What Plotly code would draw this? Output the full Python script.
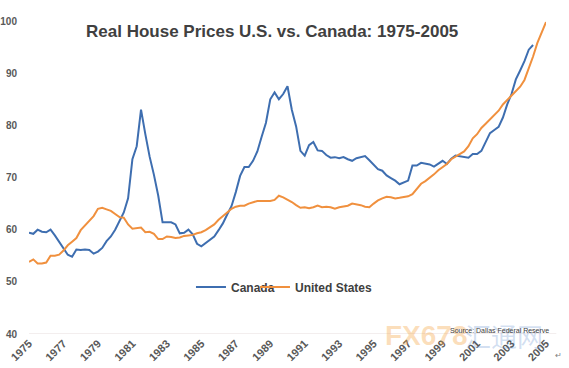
import plotly.graph_objects as go

# Quarterly real house price index, 1975Q1 ..
canada = [
    59.4, 59.2, 60.0, 59.6, 59.5, 60.0, 58.9, 57.6, 56.3, 55.2,
    54.8, 56.2, 56.1, 56.2, 56.1, 55.4, 55.8, 56.5, 57.8, 58.7,
    60.0, 61.6, 63.3, 66.0, 73.5, 76.0, 83.0, 78.3, 74.0, 70.5,
    66.5, 61.4, 61.4, 61.4, 61.0, 59.3, 59.4, 60.0, 59.1, 57.3,
    56.8, 57.4, 58.0, 58.7, 59.9, 61.2, 62.9, 64.5, 67.2, 70.3,
    72.0, 72.0, 73.2, 75.0, 77.8, 80.5, 85.0, 86.3, 85.0, 86.0,
    87.5, 83.0, 79.8, 75.1, 74.2, 76.2, 76.8, 75.2, 75.1, 74.3,
    73.8, 73.9, 73.7, 73.9, 73.5, 73.2, 73.7, 73.9, 74.1, 73.3,
    72.4, 71.6, 71.3, 70.4, 69.9, 69.4, 68.7, 69.1, 69.4, 72.3,
    72.3, 72.8, 72.7, 72.5, 72.1, 72.6, 73.2, 72.6, 73.6, 74.2,
    74.1, 73.9, 73.8, 74.5, 74.5, 75.1, 76.8, 78.5, 79.1, 79.7,
    81.5, 84.0, 86.0, 88.8, 90.5, 92.3, 94.5, 95.4,
]
united_states = [
    53.8, 54.3, 53.5, 53.5, 53.7, 55.0, 55.0, 55.2, 56.0, 57.0,
    57.7, 58.4, 59.9, 60.8, 61.6, 62.6, 64.0, 64.2, 63.9, 63.6,
    63.0, 62.4, 62.3, 61.0, 60.2, 60.3, 60.4, 59.5, 59.6, 59.2,
    58.2, 58.2, 58.7, 58.6, 58.4, 58.5, 58.8, 58.9, 59.0, 59.3,
    59.5, 59.9, 60.5, 61.0, 61.9, 62.7, 63.3, 64.0, 64.4, 64.6,
    64.6, 65.0, 65.3, 65.5, 65.5, 65.5, 65.5, 65.7, 66.5, 66.2,
    65.8, 65.3, 64.7, 64.2, 64.3, 64.1, 64.3, 64.6, 64.3, 64.4,
    64.3, 64.0, 64.3, 64.4, 64.6, 65.0, 64.9, 64.7, 64.4, 64.3,
    65.0, 65.6, 66.0, 66.3, 66.2, 66.0, 66.1, 66.2, 66.4, 66.8,
    67.8, 68.8, 69.3, 69.9, 70.6, 71.4, 72.0, 72.6, 73.5, 74.0,
    74.5, 75.0, 76.0, 77.5, 78.3, 79.5, 80.3, 81.2, 82.1, 82.8,
    84.0, 84.8, 85.6, 86.4, 87.4, 88.7, 90.8, 93.2, 95.8, 97.8,
    99.8,
]
tick_years = [1975, 1977, 1979, 1981, 1983, 1985, 1987, 1989, 1991,
              1993, 1995, 1997, 1999, 2001, 2003, 2005]
y_ticks = [40, 50, 60, 70, 80, 90, 100]

START_YEAR = 1975
x_ca = [START_YEAR + i / 4 for i in range(len(canada))]
x_us = [START_YEAR + i / 4 for i in range(len(united_states))]

FONT = "Liberation Sans"
BLUE = "#3E6EB0"
ORANGE = "#F0903E"
LEG_FONT = dict(family=FONT, size=12, color="#404040", weight="bold")

fig = go.Figure()
fig.add_trace(go.Scatter(x=x_ca, y=canada, mode="lines", name="Canada",
                         line=dict(color=BLUE, width=2), legend="legend"))
fig.add_trace(go.Scatter(x=x_us, y=united_states, mode="lines", name="United States",
                         line=dict(color=ORANGE, width=2), legend="legend2"))

fig.update_layout(
    width=569, height=368,
    margin=dict(l=29, r=23, t=21, b=34, autoexpand=False),
    paper_bgcolor="white", plot_bgcolor="white",
    font=dict(family=FONT, color="#595959"),
    showlegend=True,
    legend=dict(orientation="h", x=0.3133, xanchor="left", y=0.15, yanchor="middle",
                font=LEG_FONT, bgcolor="rgba(0,0,0,0)", itemwidth=30),
    legend2=dict(orientation="h", x=0.4371, xanchor="left", y=0.15, yanchor="middle",
                 font=LEG_FONT, bgcolor="rgba(0,0,0,0)", itemwidth=30),
    xaxis=dict(range=[1975, 2005], tickmode="array", tickvals=tick_years,
               ticktext=[str(y) for y in tick_years], tickangle=-45, automargin=False,
               showgrid=False, zeroline=False, showline=False, ticks="",
               tickfont=dict(family=FONT, size=11, color="#595959", weight="bold")),
    yaxis=dict(range=[40, 100], tickmode="array", tickvals=y_ticks, automargin=False,
               showgrid=False, zeroline=False, showline=False,
               ticks="outside", ticklen=9, tickcolor="rgba(0,0,0,0)",
               tickfont=dict(family=FONT, size=10, color="#595959", weight="bold")),
    annotations=[
        dict(text="Real House Prices U.S. vs. Canada: 1975-2005", xref="paper", yref="paper",
             x=0.47, y=0.968, xanchor="center", yanchor="middle", showarrow=False,
             font=dict(family=FONT, size=17, color="#404040", weight="bold")),
        dict(text="FX678", xref="paper", yref="paper", x=0.685, y=-0.005,
             xanchor="left", yanchor="middle", showarrow=False,
             font=dict(family=FONT, size=28, color="rgba(245,160,60,0.35)", weight="bold")),
        dict(text="汇通网", xref="paper", yref="paper", x=0.84, y=-0.005,
             xanchor="left", yanchor="middle", showarrow=False,
             font=dict(family="Noto Sans CJK SC", size=26, color="rgba(80,130,200,0.25)")),
        dict(text="Source: Dallas Federal Reserve", xref="paper", yref="paper",
             x=1.01, y=0.01, xanchor="right", yanchor="middle", showarrow=False,
             font=dict(family=FONT, size=7, color="#404040")),
        dict(text="↵", xref="paper", yref="paper", x=1.025, y=-0.07,
             xanchor="center", yanchor="middle", showarrow=False,
             font=dict(family=FONT, size=8, color="#808080")),
    ],
    shapes=[
        dict(type="line", xref="paper", yref="y", x0=0, x1=1.02, y0=40, y1=40,
             line=dict(color="#E6DCDC", width=1), layer="below"),
    ],
)

fig.write_html("out.html", config={"displayModeBar": False},
               post_script="document.body.style.margin='0';document.body.style.overflow='hidden';")
